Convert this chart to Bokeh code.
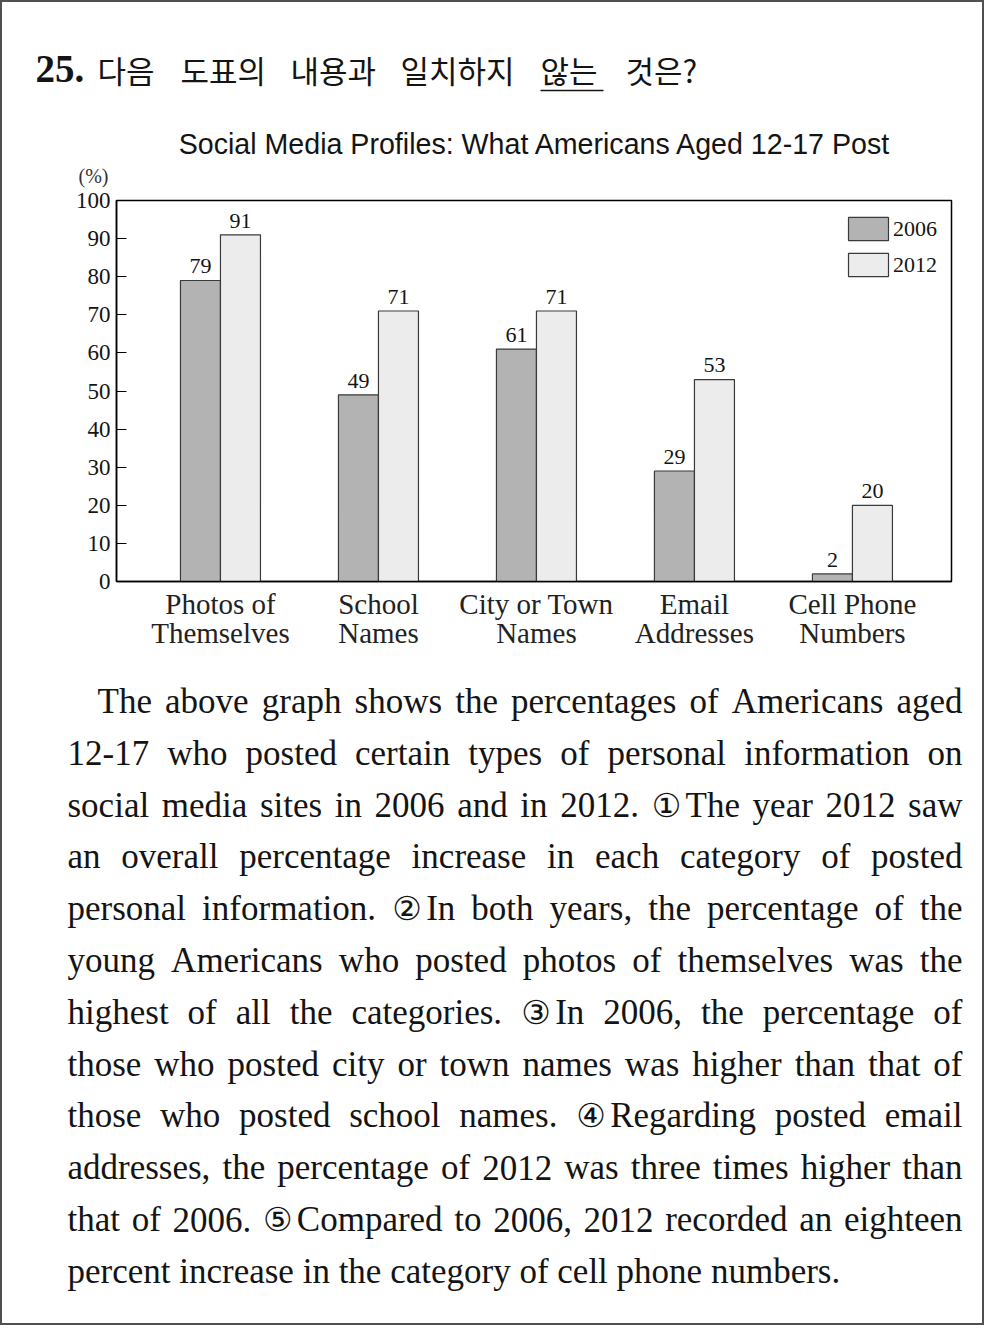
from bokeh.plotting import figure
from bokeh.models import Range1d, FixedTicker, Legend, LegendItem
from bokeh.layouts import column
from bokeh.embed import file_html
from bokeh.resources import INLINE
from bokeh.core.properties import value

# ---------------- data ----------------
categories = ["Photos of\nThemselves", "School\nNames", "City or Town\nNames",
              "Email\nAddresses", "Cell Phone\nNumbers"]
values_2006 = [79, 49, 61, 29, 2]
values_2012 = [91, 71, 71, 53, 20]
series_names = ["2006", "2012"]
y_ticks = [0, 10, 20, 30, 40, 50, 60, 70, 80, 90, 100]
chart_title = "Social Media Profiles: What Americans Aged 12-17 Post"
unit_label = "(%)"
question_number = "25."
question_words = ["다음", "도표의", "내용과", "일치하지", "않는", "것은?"]
paragraph_lines = [
    "The above graph shows the percentages of Americans aged",
    "12-17 who posted certain types of personal information on",
    "social media sites in 2006 and in 2012. \u2460 The year 2012 saw",
    "an overall percentage increase in each category of posted",
    "personal information. \u2461 In both years, the percentage of the",
    "young Americans who posted photos of themselves was the",
    "highest of all the categories. \u2462 In 2006, the percentage of",
    "those who posted city or town names was higher than that of",
    "those who posted school names. \u2463 Regarding posted email",
    "addresses, the percentage of 2012 was three times higher than",
    "that of 2006. \u2464 Compared to 2006, 2012 recorded an eighteen",
    "percent increase in the category of cell phone numbers.",
]

# ---------------- styles ----------------
SERIF = "Liberation Serif"
SANS = "Liberation Sans"
KOR = "Noto Sans CJK KR"
INK = "#141414"
C2006 = "#b3b3b3"
C2012 = "#ececec"
BAR_LINE = "#3a3a3a"
W = 980


def no_align(f):
    if "frame_align" in f.properties():
        f.frame_align = False


# ---------------- header figure ----------------
ph = figure(width=W, height=186, x_range=Range1d(2, 982), y_range=Range1d(188, 2),
            x_axis_location=None, y_axis_location=None, output_backend="svg",
            toolbar_location=None, min_border=0, outline_line_color=None)
ph.grid.visible = False
no_align(ph)
ph.text(x=[35], y=[68], text=[question_number], text_font=value(SERIF),
        text_font_style="bold", text_font_size="39px", text_color=INK,
        text_baseline="middle")
q_x = [97, 180, 290, 400, 540, 625]
ph.text(x=q_x, y=[69] * len(question_words), text=question_words,
        text_font=value(KOR), text_font_size="31px", text_color=INK,
        text_baseline="middle")
ph.segment(x0=[q_x[4]], y0=[90], x1=[q_x[4] + 63], y1=[90], line_color=INK, line_width=1.6)
ph.text(x=[535], y=[143], text=[chart_title], text_font=value(SANS),
        text_font_size="28.6px", text_color=INK, text_align="center",
        text_baseline="middle")
ph.text(x=[93], y=[175], text=[unit_label], text_font=value(SERIF),
        text_font_size="20px", text_color="#333333", text_align="center",
        text_baseline="middle")

# ---------------- chart figure ----------------
pc = figure(width=W, height=467, x_range=Range1d(-0.658, 4.627), y_range=Range1d(0, 100),
            output_backend="svg", toolbar_location=None,
            min_border_left=114, min_border_right=31, min_border_top=12,
            min_border_bottom=74)
no_align(pc)
pc.xgrid.grid_line_color = None
pc.ygrid.grid_line_color = None
pc.outline_line_color = "black"
pc.outline_line_width = 1.5

BW = 0.2532
idx = list(range(len(categories)))
x_2006 = [i - BW / 2 for i in idx]
x_2012 = [i + BW / 2 for i in idx]
r1 = pc.vbar(x=x_2006, top=values_2006, bottom=0, width=BW, fill_color=C2006,
             line_color=BAR_LINE, line_width=1.2)
r2 = pc.vbar(x=x_2012, top=values_2012, bottom=0, width=BW, fill_color=C2012,
             line_color=BAR_LINE, line_width=1.2)
LABEL_GAP = 3.7  # value units above bar top (centre of the number)
for xs, vs in ((x_2006, values_2006), (x_2012, values_2012)):
    pc.text(x=xs, y=[v + LABEL_GAP for v in vs], text=[str(v) for v in vs],
            text_align="center", text_baseline="middle", text_font=value(SERIF),
            text_font_size="22px", text_color=INK)

ya = pc.yaxis[0]
ya.ticker = FixedTicker(ticks=y_ticks)
ya.major_tick_in = 10
ya.major_tick_out = 0
ya.minor_tick_in = 0
ya.minor_tick_out = 0
ya.major_tick_line_color = "black"
ya.major_tick_line_width = 1.2
ya.axis_line_color = "black"
ya.axis_line_width = 1.5
ya.major_label_standoff = 6
ya.major_label_text_font = SERIF
ya.major_label_text_font_size = "23px"
ya.major_label_text_color = INK

xa = pc.xaxis[0]
xa.ticker = FixedTicker(ticks=idx)
xa.major_label_overrides = {i: c for i, c in zip(idx, categories)}
xa.major_tick_in = 0
xa.major_tick_out = 0
xa.minor_tick_in = 0
xa.minor_tick_out = 0
xa.axis_line_color = "black"
xa.axis_line_width = 1.5
xa.major_label_standoff = 6
xa.major_label_text_font = SERIF
xa.major_label_text_font_size = "29px"
xa.major_label_text_color = "#222222"
xa.major_label_text_line_height = 0.92

legend = Legend(items=[LegendItem(label=series_names[0], renderers=[r1]),
                       LegendItem(label=series_names[1], renderers=[r2])],
                location="top_right", margin=14, padding=0, spacing=7,
                glyph_width=50, glyph_height=29, label_standoff=0,
                label_text_font=SERIF, label_text_font_size="22px",
                label_text_color=INK, border_line_color=None,
                background_fill_alpha=0)
pc.add_layout(legend)

# ---------------- paragraph figure ----------------
pp = figure(width=W, height=668, x_range=Range1d(2, 982), y_range=Range1d(1323, 655),
            x_axis_location=None, y_axis_location=None, output_backend="svg",
            toolbar_location=None, min_border=0, outline_line_color=None)
pp.grid.visible = False
no_align(pp)

# Times / Liberation Serif advance widths (1/1000 em)
_w = {" ": 250, ".": 250, ",": 250, "-": 333, "?": 444, "'": 333, "(": 333, ")": 333,
      "A": 722, "B": 667, "C": 667, "D": 722, "E": 611, "F": 556, "G": 722, "H": 722,
      "I": 333, "J": 389, "K": 722, "L": 611, "M": 889, "N": 722, "O": 722, "P": 556,
      "Q": 722, "R": 667, "S": 556, "T": 611, "U": 722, "V": 722, "W": 944, "X": 722,
      "Y": 722, "Z": 611, "a": 444, "b": 500, "c": 444, "d": 500, "e": 444, "f": 333,
      "g": 500, "h": 500, "i": 278, "j": 278, "k": 500, "l": 278, "m": 778, "n": 500,
      "o": 500, "p": 500, "q": 500, "r": 333, "s": 389, "t": 278, "u": 500, "v": 500,
      "w": 722, "x": 500, "y": 500, "z": 444}
FS = 35


def tw(s):
    return sum(_w.get(ch, 500) for ch in s) * FS / 1000.0


CIRC_W = 30
CIRC_G = 4
LEFT, INDENT, RIGHT = 67, 97, 962
MID0, STEP = 701, 51.8

word_x, word_y, word_t = [], [], []
circ_x, circ_y, circ_t = [], [], []
for li, line in enumerate(paragraph_lines):
    raw = line.split(" ")
    toks = []
    k = 0
    while k < len(raw):
        t = raw[k]
        if len(t) == 1 and 0x2460 <= ord(t) <= 0x2473 and k + 1 < len(raw):
            toks.append((t, raw[k + 1]))
            k += 2
        else:
            toks.append((None, t))
            k += 1
    widths = [(CIRC_W + CIRC_G if c else 0) + tw(t) for c, t in toks]
    left = INDENT if li == 0 else LEFT
    y = MID0 + li * STEP
    if li == len(paragraph_lines) - 1:
        gap = tw(" ")
    else:
        gap = (RIGHT - left - sum(widths)) / (len(toks) - 1)
    x = left
    for (c, t), wdt in zip(toks, widths):
        if c:
            circ_x.append(x + CIRC_W / 2)
            circ_y.append(y)
            circ_t.append(c)
            word_x.append(x + CIRC_W + CIRC_G)
        else:
            word_x.append(x)
        word_y.append(y)
        word_t.append(t)
        x += wdt + gap

pp.text(x=word_x, y=word_y, text=word_t, text_font=value(SERIF),
        text_font_size=f"{FS}px", text_color=INK, text_baseline="middle")
pp.text(x=circ_x, y=circ_y, text=circ_t, text_font=value("DejaVu Sans"),
        text_font_size="33px", text_color=INK, text_align="center",
        text_baseline="middle")

page = column(ph, pc, pp, spacing=0,
              styles={"border": "2px solid #505050", "background-color": "white"})

open("out.html", "w").write(file_html(page, INLINE))
